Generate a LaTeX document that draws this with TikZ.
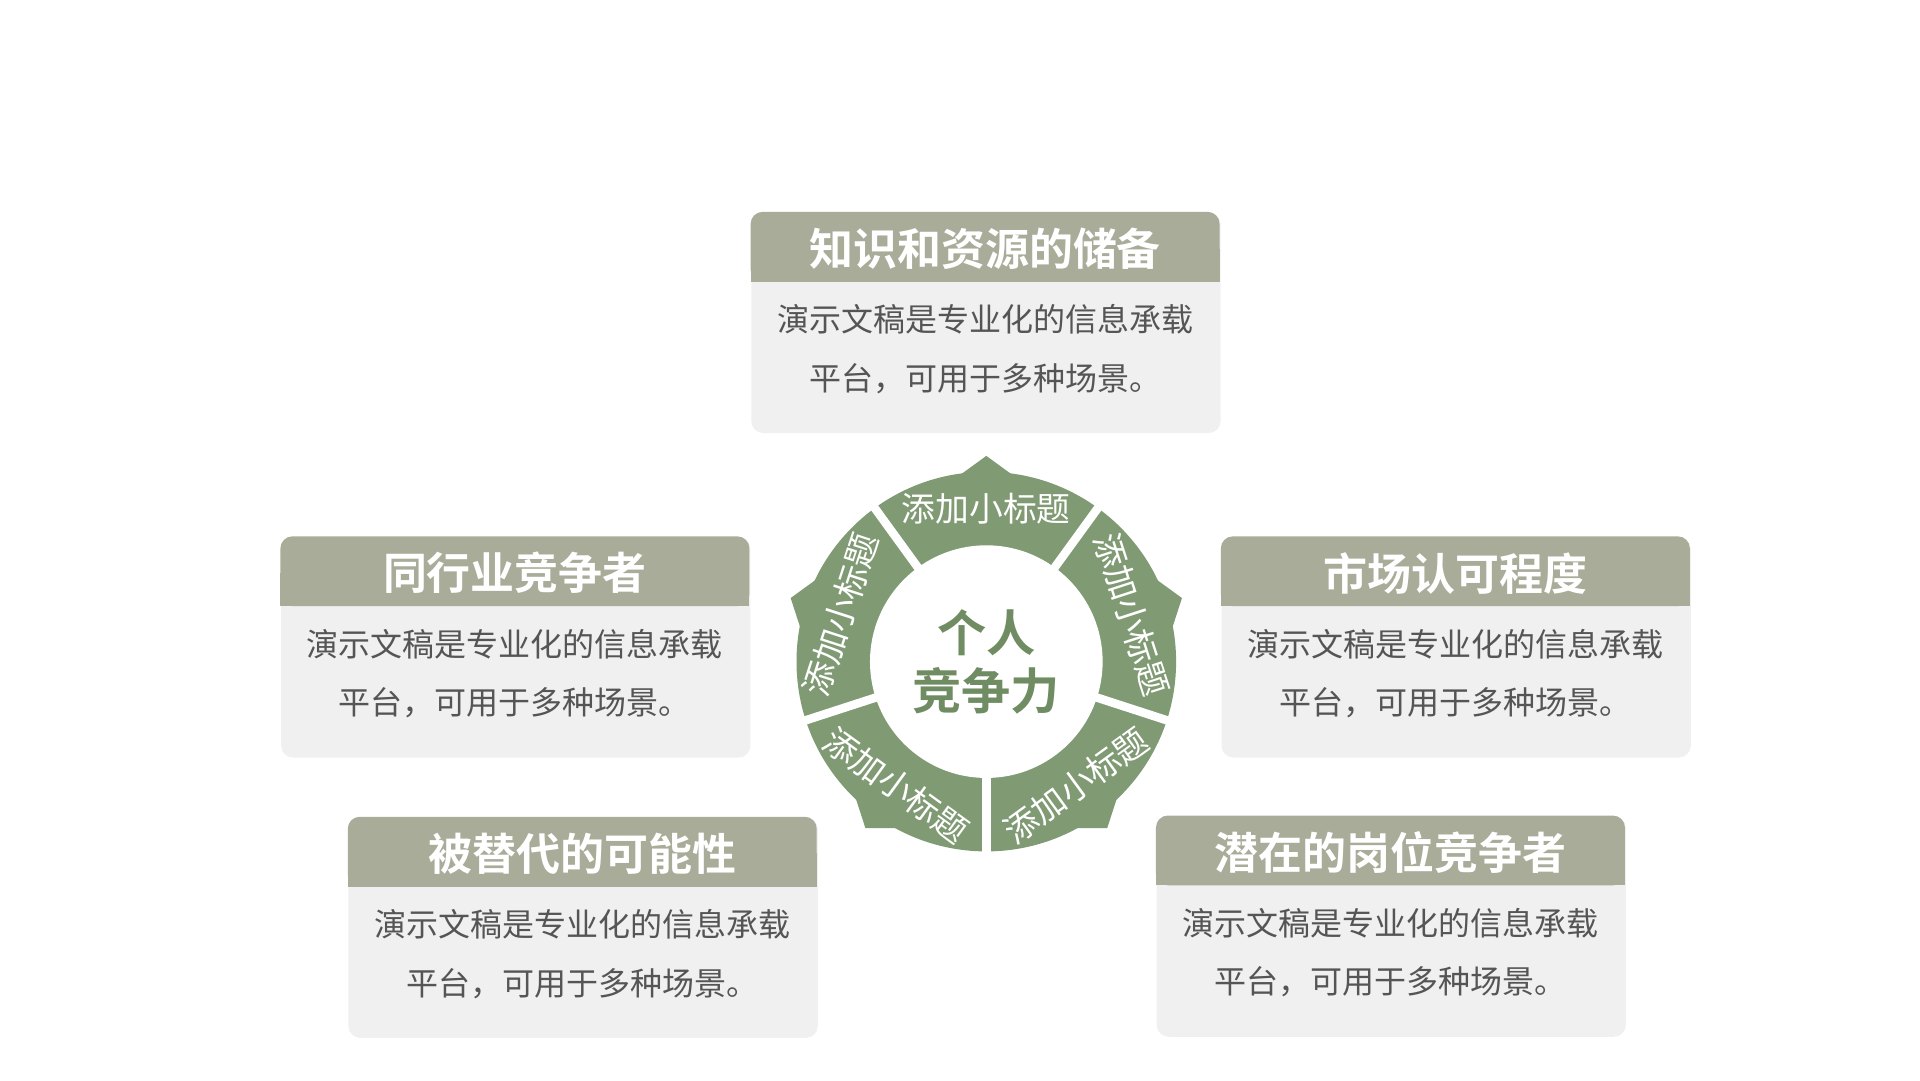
\documentclass[tikz,border=0pt]{standalone}
\usepackage{fontspec}
\setmainfont{Noto Sans CJK SC}
\newfontfamily\cjkbold{Noto Sans CJK SC Bold}
\usepackage{tikz}
\usetikzlibrary{positioning, calc}
\definecolor{headgray}{RGB}{168, 172, 152}
\definecolor{bodygray}{RGB}{240, 240, 240}
\definecolor{bodytext}{RGB}{85, 85, 85}
\definecolor{ringgreen}{RGB}{128, 154, 116}
\definecolor{coregreen}{RGB}{112, 140, 98}

% one card: name, left x, top y, title
\newcommand{\card}[4]{%
  \node[cardbody, anchor=north west] (#1) at (#2,#3) {};
  \fill[headgray, rounded corners=0.12cm] (#2,#3+57) -- (#2,#3) -- (#2+383,#3) -- (#2+383,#3+57) -- cycle;
  \fill[headgray] (#2,#3+30) rectangle (#2+383,#3+57);
  \node[cardtitle] (#1-t) at (#2+191.5,#3+30) {#4};
  \node[cardtext] (#1-x) at (#2+191.5,#3+112) {演示文稿是专业化的信息承载\\平台，可用于多种场景。};
}

\begin{document}
\begin{tikzpicture}[
    x=0.012245cm, y=-0.012245cm,
    cardbody/.style={rectangle, fill=bodygray, rounded corners=0.12cm,
                     minimum width=4.69cm, minimum height=2.204cm, inner sep=0pt},
    cardtitle/.style={text=white, font=\cjkbold\fontsize{12.5}{14}\selectfont},
    cardtext/.style={text=bodytext, align=center, font=\fontsize{9.1}{16.7}\selectfont},
    segtext/.style={text=white, font=\fontsize{9.6}{11}\selectfont},
    gap/.style={white, line width=0.085cm}
]
\useasboundingbox (0,0) rectangle (1568,882);

% Cards
\card{know}{613}{173}{知识和资源的储备}
\card{peer}{229}{438}{同行业竞争者}
\card{market}{997}{438}{市场认可程度}
\card{replace}{284}{667}{被替代的可能性}
\card{latent}{944}{666}{潜在的岗位竞争者}

% Ring
\begin{scope}[x=0.012245cm, y=0.012245cm, shift={(9.857cm,-6.612cm)}]
  \fill[ringgreen] (0,0) circle (155);
  \fill[ringgreen] (90:168) -- (18:168) -- (-54:168) -- (-126:168) -- (162:168) -- cycle;
  \foreach \a in {54,126,198,270,342}
    \draw[gap] (\a:90) -- (\a:180);
  \fill[white] (0,0) circle (95);
  \node[segtext, rotate=0] (s1) at (90:125) {添加小标题};
  \node[segtext, rotate=-72] (s2) at (18:125) {添加小标题};
  \node[segtext, rotate=36] (s3) at (-54:125) {添加小标题};
  \node[segtext, rotate=-36] (s4) at (-126:125) {添加小标题};
  \node[segtext, rotate=72] (s5) at (162:125) {添加小标题};
  \node[text=coregreen, align=center, font=\cjkbold\fontsize{14}{16.5}\selectfont] (core) at (0,0) {个人\\竞争力};
\end{scope}

\end{tikzpicture}
\end{document}
